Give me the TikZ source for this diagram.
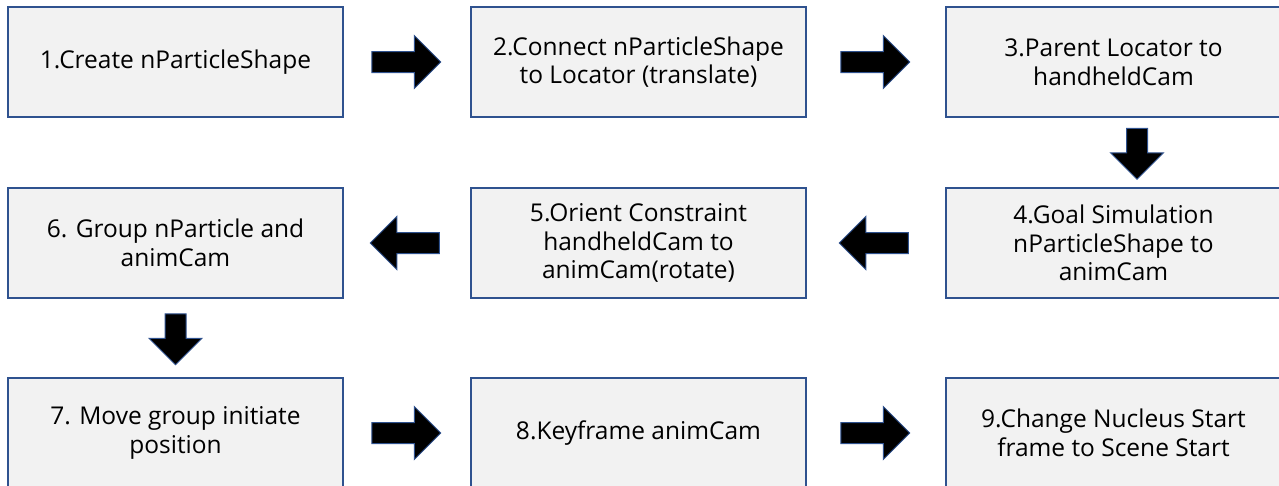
\documentclass[tikz,border=0pt]{standalone}
\usepackage{fontspec}
\setmainfont{Open Sans}
\usetikzlibrary{shapes.arrows,calc}
\definecolor{clrEdge}{RGB}{47,82,143}
\definecolor{clrFill}{RGB}{242,242,242}

\begin{document}
\begin{tikzpicture}[x=1pt,y=1pt,
   stepbox/.style={rectangle,draw=clrEdge,fill=clrFill,line width=1.3pt,
     minimum width=335pt,minimum height=110pt,align=center,inner sep=0pt,
     font=\fontsize{24.5}{28.5}\selectfont},
   blk/.style={single arrow,draw=clrEdge,fill=black,line width=1pt,
     text height=20pt,text depth=0pt,text width=20pt,
     minimum height=69pt,minimum width=52pt,single arrow head extend=16pt,
     inner sep=0pt},
   blkr/.style={blk,xshift=-6pt},
   blkl/.style={blk,shape border rotate=180,xshift=3pt},
   blkd/.style={blk,shape border rotate=270,minimum height=51pt,yshift=4pt}]
  \useasboundingbox (0,0) rectangle (1279,-485);
  \clip (0,0) rectangle (1279,-485);

  \node[stepbox] (s1) at (175.5,-62) {1.Create nParticleShape};
  \node[stepbox] (s2) at (638.5,-62) {2.Connect nParticleShape\\to Locator (translate)};
  \node[stepbox] (s3) at (1113.5,-62) {3.Parent Locator to\\handheldCam};
  \node[stepbox] (s4) at (1113.5,-243) {4.Goal Simulation\\nParticleShape to\\animCam};
  \node[stepbox] (s5) at (638.5,-243) {5.Orient Constraint\\handheldCam to\\animCam(rotate)};
  \node[stepbox] (s6) at (175.5,-243) {6. Group nParticle and\\animCam};
  \node[stepbox] (s7) at (175.5,-433) {7. Move group initiate\\position};
  \node[stepbox] (s8) at (638.5,-433) {8.Keyframe animCam};
  \node[stepbox] (s9) at (1113.5,-433) {9.Change Nucleus Start\\frame to Scene Start};

  \node[blkr] (a12) at ($(s1.east)!0.5!(s2.west)$) {};
  \node[blkr] (a23) at ($(s2.east)!0.5!(s3.west)$) {};
  \node[blkd,xshift=23.5pt] (a34) at ($(s3.south)!0.5!(s4.north)$) {};
  \node[blkl] (a45) at ($(s4.west)!0.5!(s5.east)$) {};
  \node[blkl] (a56) at ($(s5.west)!0.5!(s6.east)$) {};
  \node[blkd] (a67) at ($(s6.south)!0.5!(s7.north)$) {};
  \node[blkr] (a78) at ($(s7.east)!0.5!(s8.west)$) {};
  \node[blkr] (a89) at ($(s8.east)!0.5!(s9.west)$) {};
\end{tikzpicture}
\end{document}
